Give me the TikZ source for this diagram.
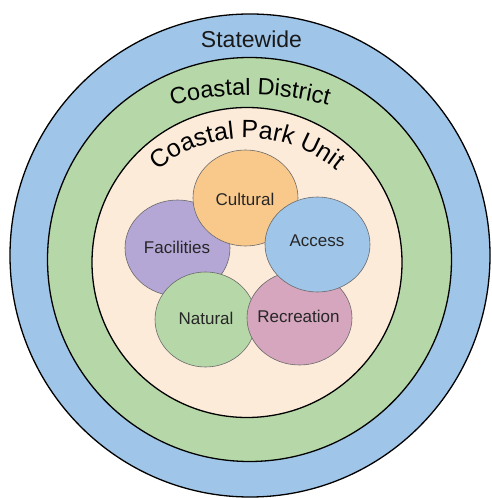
\documentclass[tikz,border=0pt]{standalone}
\usepackage{fontspec}
\setmainfont{Liberation Sans}
\usetikzlibrary{shapes.geometric,decorations.text}
\definecolor{ringblue}{HTML}{9FC5E8}
\definecolor{ringgreen}{HTML}{B6D7A8}
\definecolor{beige}{HTML}{FDEBDA}
\definecolor{cult}{HTML}{F9C98C}
\definecolor{facil}{HTML}{B4A7D6}
\definecolor{acc}{HTML}{9FC5E8}
\definecolor{nat}{HTML}{B6D7A8}
\definecolor{recr}{HTML}{D5A6BD}
\definecolor{edgegray}{HTML}{6A6A6A}
\tikzset{
  ring/.style={draw=black, line width=1.3pt},
  topic/.style={ellipse, draw=edgegray, line width=0.6pt, inner sep=0pt},
  topiclabel/.style={inner sep=0pt, text=black!85, font=\fontsize{17}{20}\selectfont},
  ringlabel/.style={font=\fontsize{23}{26}\selectfont, text=black!90}
}
\begin{document}
\begin{tikzpicture}[x=1pt,y=1pt]
\useasboundingbox (0,0) rectangle (491,498);
% rings
\path[ring, fill=ringblue] (250,242.5) ellipse [x radius=240, y radius=241.5];
\path[ring, fill=ringgreen] (249.5,238.5) circle [radius=202];
\path[ring, fill=beige] (247,235.5) circle [radius=155];
% ring labels
\node[ringlabel, anchor=base] (state) at (251.5,450) {Statewide};
\path[decorate, decoration={text along path, text align=center,
  text={|\fontsize{23.5}{26}\selectfont|Coastal District}}]
  (250,103) ++(125:300) arc[start angle=125, end angle=55, radius=300];
\path[decorate, decoration={text along path, text align=center,
  text={|\fontsize{25}{28}\selectfont|Coastal Park Unit}}]
  (247,220) ++(160:140) arc[start angle=160, end angle=20, radius=140];
% topic circles
\node[topic, fill=facil, minimum width=105, minimum height=96] (facilities) at (177.5,250) {};
\node[topiclabel] (facilitiesT) at (177,251) {Facilities};
\node[topic, fill=cult, minimum width=105, minimum height=96] (cultural) at (245.5,300) {};
\node[topiclabel] (culturalT) at (245,299) {Cultural};
\node[topic, fill=nat, minimum width=101, minimum height=95] (natural) at (205.5,178.5) {};
\node[topiclabel] (naturalT) at (206,180) {Natural};
\node[topic, fill=recr, minimum width=105, minimum height=94] (recreation) at (299.5,180) {};
\node[topiclabel] (recreationT) at (298.5,182) {Recreation};
\node[topic, fill=acc, minimum width=105, minimum height=95] (access) at (317.5,253.5) {};
\node[topiclabel] (accessT) at (317,257) {Access};
\end{tikzpicture}
\end{document}
